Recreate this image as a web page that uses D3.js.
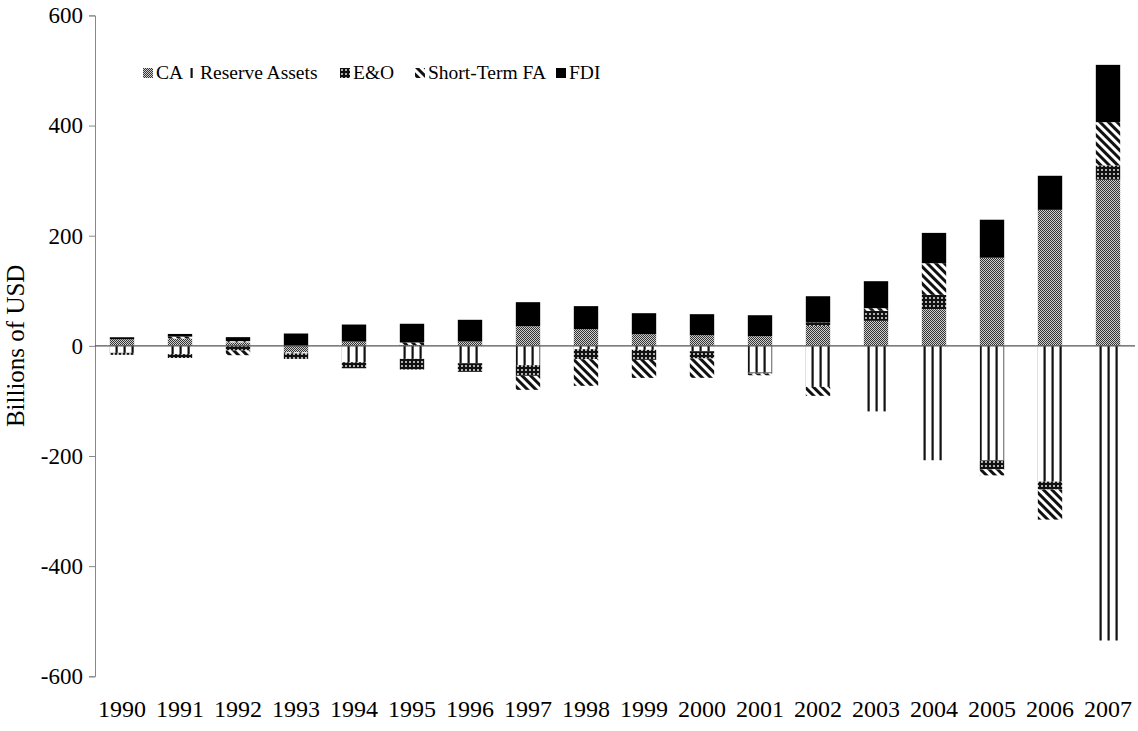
<!DOCTYPE html>
<html>
<head>
<meta charset="utf-8">
<script src="https://cdn.jsdelivr.net/npm/d3@7"></script>
<style>
  body { margin: 0; background: #fff; }
  text { font-family: 'Liberation Serif', 'Times New Roman', serif; fill: #000; }
</style>
</head>
<body>
<div id="chart"></div>
<script>
// China balance of payments components, billions of USD
const years = ['1990', '1991', '1992', '1993', '1994', '1995', '1996', '1997', '1998',
  '1999', '2000', '2001', '2002', '2003', '2004', '2005', '2006', '2007'];
const caValues = [12.0, 13.3, 6.4, -11.9, 7.7, 1.6, 7.9, 35.7, 30.3, 21.2, 19.4, 17.6,
  36.3, 45.4, 66.6, 160, 247, 301.5];
const reserveValues = [-12.7, -15, 2.1, -1.8, -29.7, -23.6, -31.5, -35.1, -6, -7.3, -9.7,
  -48.4, -74.5, -119, -207.7, -208, -246.5, -535];
const eoValues = [-3.6, -7, -8.3, -10, -11, -19.4, -15.7, -19.4, -18.2, -18.2, -13.3, -2,
  6, 18.2, 26, -16.3, -14.5, 26];
const shortTermValues = [0, 3.5, -8.7, 0, 0, 4.5, 0, -25.4, -48.4, -32.7, -35.1, -3,
  -16.3, 4.8, 57.5, -10.9, -54.5, 78.7];
const fdiValues = [3.6, 4.8, 7.3, 22.4, 31, 34, 39.4, 43.6, 41.8, 38.1, 38.1, 38, 47.8,
  49, 55, 69, 61.8, 104];
const seriesNames = ['CA', 'Reserve Assets', 'E&O', 'Short-Term FA', 'FDI'];
const yTicks = [-600, -400, -200, 0, 200, 400, 600];

const width = 1138;
const height = 731;
const plotLeft = 95;
const plotRight = 1135;

const seriesKeys = ['ca', 'reserve', 'eo', 'stfa', 'fdi'];
const table = years.map((year, i) => ({
  year,
  ca: caValues[i],
  reserve: reserveValues[i],
  eo: eoValues[i],
  stfa: shortTermValues[i],
  fdi: fdiValues[i],
}));

const stacked = d3.stack()
  .keys(seriesKeys)
  .offset(d3.stackOffsetDiverging)(table);

const x = d3.scaleBand()
  .domain(years)
  .range([93, 1137])
  .paddingInner(0.58)
  .paddingOuter(0.29);

const y = d3.scaleLinear()
  .domain([-600, 600])
  .range([676.3, 15.4]);

const svg = d3.select('#chart')
  .append('svg')
  .attr('width', width)
  .attr('height', height);

// fill patterns, one per series
const defs = svg.append('defs');

const ca = defs.append('pattern')
  .attr('id', 'pat-ca')
  .attr('patternUnits', 'userSpaceOnUse')
  .attr('width', 2)
  .attr('height', 2);
ca.append('rect').attr('width', 2).attr('height', 2).attr('fill', '#d0d0d0');
ca.append('rect').attr('width', 1).attr('height', 1).attr('fill', '#333');
ca.append('rect').attr('x', 1).attr('y', 1).attr('width', 1).attr('height', 1).attr('fill', '#333');

const reserve = defs.append('pattern')
  .attr('id', 'pat-reserve')
  .attr('patternUnits', 'userSpaceOnUse')
  .attr('width', 8)
  .attr('height', 8);
reserve.append('rect').attr('width', 8).attr('height', 8).attr('fill', '#fff');
reserve.append('rect').attr('x', 3.5).attr('width', 2.2).attr('height', 8).attr('fill', '#111');

const eo = defs.append('pattern')
  .attr('id', 'pat-eo')
  .attr('patternUnits', 'userSpaceOnUse')
  .attr('width', 4)
  .attr('height', 4);
eo.append('rect').attr('width', 4).attr('height', 4).attr('fill', '#111');
eo.append('rect').attr('x', 1).attr('y', 1).attr('width', 2).attr('height', 2).attr('fill', '#b0b0b0');

const stfa = defs.append('pattern')
  .attr('id', 'pat-stfa')
  .attr('patternUnits', 'userSpaceOnUse')
  .attr('width', 6)
  .attr('height', 6)
  .attr('patternTransform', 'rotate(-45)');
stfa.append('rect').attr('width', 6).attr('height', 6).attr('fill', '#fff');
stfa.append('rect').attr('width', 3).attr('height', 6).attr('fill', '#111');

const fills = {
  ca: 'url(#pat-ca)',
  reserve: 'url(#pat-reserve)',
  eo: 'url(#pat-eo)',
  stfa: 'url(#pat-stfa)',
  fdi: '#000',
};

// y axis
const yAxis = svg.append('g')
  .attr('transform', `translate(${plotLeft},0)`)
  .call(d3.axisLeft(y)
    .tickValues(yTicks)
    .tickFormat(d => String(d))
    .tickSize(6)
    .tickPadding(6));
yAxis.select('.domain').attr('stroke', '#888');
yAxis.selectAll('.tick line').attr('stroke', '#888');
yAxis.selectAll('.tick text')
  .attr('font-size', 23);

svg.append('text')
  .attr('transform', `translate(24,${y(0)}) rotate(-90)`)
  .attr('text-anchor', 'middle')
  .attr('font-size', 25)
  .text('Billions of USD');

// bars
svg.append('g')
  .selectAll('g')
  .data(stacked)
  .join('g')
  .attr('fill', d => fills[d.key])
  .selectAll('rect')
  .data(d => d)
  .join('rect')
  .attr('x', d => x(d.data.year))
  .attr('width', x.bandwidth())
  .attr('y', d => y(Math.max(d[0], d[1])))
  .attr('height', d => Math.abs(y(d[0]) - y(d[1])));

// zero line
svg.append('line')
  .attr('x1', plotLeft)
  .attr('x2', plotRight)
  .attr('y1', y(0))
  .attr('y2', y(0))
  .attr('stroke', '#555')
  .attr('stroke-width', 1.3);

// year labels
svg.append('g')
  .selectAll('text')
  .data(years)
  .join('text')
  .attr('x', d => x(d) + x.bandwidth() / 2)
  .attr('y', 717)
  .attr('text-anchor', 'middle')
  .attr('font-size', 24)
  .text(d => d);

// legend
const legendX = [143, 187, 340, 415, 556];
const legend = svg.append('g')
  .selectAll('g')
  .data(seriesKeys)
  .join('g')
  .attr('transform', (d, i) => `translate(${legendX[i]},68)`);

legend.append('rect')
  .attr('width', 10)
  .attr('height', 10)
  .attr('fill', d => fills[d]);

legend.append('text')
  .attr('x', 13)
  .attr('y', 11)
  .attr('font-size', 19.5)
  .text((d, i) => seriesNames[i]);
</script>
</body>
</html>
